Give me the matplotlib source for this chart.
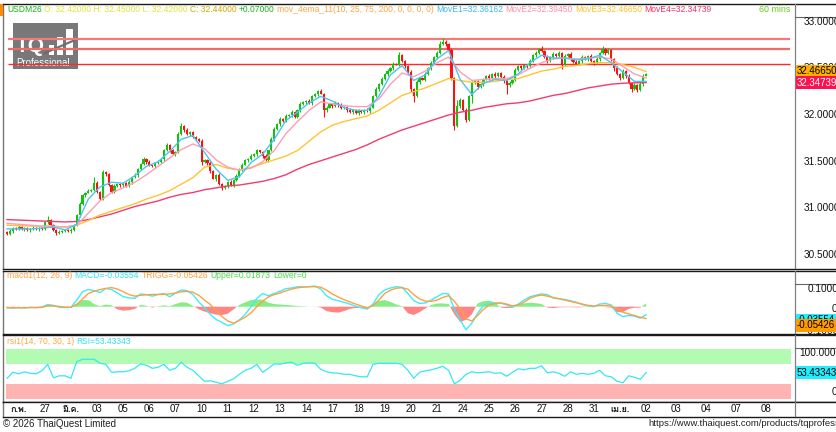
import numpy as np
import matplotlib
matplotlib.use('Agg')
import matplotlib.pyplot as plt
from matplotlib.patches import Rectangle
from matplotlib import font_manager as fm
from matplotlib.ft2font import FT2Font

W, H = 836, 432

# ---------------- data ----------------
first_open = 30.75
closes = [
    30.73, 30.76, 30.79, 30.78, 30.80, 30.78, 30.79, 30.77, 30.78, 30.79,
    30.78, 30.79, 30.78, 30.85, 30.88, 30.82, 30.77, 30.74, 30.75, 30.76,
    30.77, 30.76, 30.77, 30.82, 30.93, 31.05, 31.14, 31.17, 31.19, 31.20,
    31.27, 31.18, 31.10, 31.39, 31.37, 31.25, 31.18, 31.24, 31.26, 31.25,
    31.27, 31.24, 31.28, 31.34, 31.36, 31.42, 31.48, 31.53, 31.50, 31.46,
    31.45, 31.49, 31.50, 31.53, 31.62, 31.68, 31.62, 31.58, 31.60, 31.80,
    31.88, 31.84, 31.80, 31.82, 31.76, 31.74, 31.72, 31.50, 31.52, 31.49,
    31.40, 31.32, 31.36, 31.26, 31.22, 31.24, 31.28, 31.25, 31.30, 31.35,
    31.42, 31.47, 31.52, 31.53, 31.56, 31.58, 31.62, 31.60, 31.56, 31.52,
    31.62, 31.74, 31.85, 31.90, 31.96, 31.94, 31.99, 32.00, 32.03, 31.98,
    32.05, 32.12, 32.14, 32.15, 32.13, 32.20, 32.22, 32.26, 32.23, 32.05,
    32.08, 32.12, 32.10, 32.13, 32.11, 32.07, 32.09, 32.05, 32.03, 32.05,
    32.02, 32.04, 32.03, 32.05, 32.04, 32.08, 32.20, 32.28, 32.33, 32.39,
    32.44, 32.47, 32.50, 32.55, 32.54, 32.64, 32.58, 32.52, 32.46, 32.28,
    32.20, 32.35, 32.40, 32.38, 32.44, 32.50, 32.56, 32.62, 32.66, 32.76,
    32.78, 32.76, 32.70, 32.40, 31.88, 32.10, 32.16, 32.05, 31.95, 32.20,
    32.34, 32.36, 32.30, 32.33, 32.38, 32.42, 32.40, 32.44, 32.42, 32.45,
    32.41, 32.36, 32.32, 32.34, 32.38, 32.48, 32.52, 32.50, 32.53, 32.52,
    32.58, 32.64, 32.66, 32.71, 32.69, 32.62, 32.58, 32.62, 32.65, 32.63,
    32.66, 32.54, 32.63, 32.65, 32.60, 32.57, 32.55, 32.58, 32.62, 32.60,
    32.63, 32.58, 32.56, 32.60, 32.66, 32.71, 32.66, 32.70, 32.60, 32.50,
    32.44, 32.40, 32.47, 32.42, 32.34, 32.28, 32.32, 32.27, 32.33, 32.42,
    32.44,
]
# wick lengths beyond the body, in 0.01 units, one digit per candle
upper_wick = ("1211211112" "1112411121" "1121121121" "7212111211" "1121211212"
              "1121221212" "3121121211" "2112111212" "1211212112" "1221212121"
              "1211212121" "2112121121" "1211211212" "1212131112" "1211212123"
              "4212162121" "2121212121" "1212121212" "2121312121" "2121212121"
              "1212131211" "2121212122" "1")
lower_wick = ("1121112121" "1211211211" "1121121211" "1211212112" "2112121121"
              "1211212121" "1212121312" "2131212121" "1212112121" "2121212121"
              "1212121217" "2121211212" "1212121121" "1212121213" "6121212121"
              "1212412131" "7121212121" "1292121212" "2121212121" "1521212121"
              "2121212123" "1212131212" "0")

ema_step = 4
ema1 = [30.78, 30.78, 30.78, 30.79, 30.80, 30.77, 30.83, 31.10, 31.23, 31.28,
        31.27, 31.35, 31.45, 31.50, 31.61, 31.74, 31.78, 31.60, 31.42, 31.30,
        31.34, 31.49, 31.58, 31.74, 31.94, 32.03, 32.13, 32.20, 32.15, 32.08,
        32.05, 32.05, 32.20, 32.43, 32.53, 32.37, 32.43, 32.60, 32.69, 32.38,
        32.22, 32.34, 32.38, 32.37, 32.44, 32.56, 32.64, 32.61, 32.61, 32.59,
        32.60, 32.64, 32.56, 32.46, 32.36, 32.36]
ema2 = [30.84, 30.83, 30.82, 30.81, 30.81, 30.80, 30.82, 30.95, 31.08, 31.17,
        31.22, 31.28, 31.36, 31.45, 31.54, 31.63, 31.69, 31.64, 31.52, 31.44,
        31.41, 31.43, 31.50, 31.62, 31.80, 31.93, 32.05, 32.14, 32.12, 32.10,
        32.09, 32.09, 32.17, 32.33, 32.45, 32.41, 32.47, 32.56, 32.62, 32.46,
        32.37, 32.38, 32.39, 32.39, 32.43, 32.50, 32.56, 32.60, 32.61, 32.60,
        32.61, 32.62, 32.60, 32.52, 32.44, 32.395]
ema3 = [30.82, 30.815, 30.81, 30.81, 30.805, 30.80, 30.82, 30.87, 30.93, 30.97,
        31.01, 31.05, 31.10, 31.14, 31.19, 31.26, 31.33, 31.44, 31.47, 31.43,
        31.41, 31.44, 31.48, 31.52, 31.56, 31.62, 31.72, 31.82, 31.89, 31.93,
        31.96, 31.99, 32.05, 32.13, 32.21, 32.25, 32.29, 32.34, 32.39, 32.37,
        32.35, 32.35, 32.36, 32.38, 32.39, 32.43, 32.47, 32.49, 32.52, 32.53,
        32.55, 32.56, 32.56, 32.54, 32.51, 32.4665]
ema4 = [30.88, 30.875, 30.87, 30.865, 30.86, 30.855, 30.86, 30.88, 30.91, 30.94,
        30.98, 31.02, 31.05, 31.08, 31.12, 31.15, 31.17, 31.20, 31.22, 31.24,
        31.25, 31.27, 31.29, 31.32, 31.36, 31.42, 31.47, 31.51, 31.55, 31.59,
        31.63, 31.68, 31.74, 31.79, 31.84, 31.88, 31.92, 31.96, 32.00, 32.03,
        32.05, 32.08, 32.10, 32.12, 32.13, 32.15, 32.18, 32.21, 32.23, 32.26,
        32.29, 32.31, 32.33, 32.34, 32.345, 32.34739]

osc_step = 2
macd = [-0.005, -0.006, -0.004, -0.006, -0.003, -0.004, -0.002, 0.010, 0.006, -0.003,
        -0.004, -0.003, 0.030, 0.068, 0.078, 0.073, 0.064, 0.083, 0.078, 0.062,
        0.046, 0.040, 0.038, 0.058, 0.055, 0.048, 0.055, 0.060, 0.045, 0.062,
        0.076, 0.073, 0.055, 0.022, -0.005, -0.035, -0.058, -0.072, -0.086, -0.078,
        -0.060, -0.035, 0.000, 0.038, 0.060, 0.050, 0.060, 0.070, 0.082, 0.085,
        0.091, 0.090, 0.091, 0.094, 0.080, 0.050, 0.034, 0.027, 0.020, 0.012,
        0.002, -0.005, -0.011, 0.012, 0.055, 0.076, 0.085, 0.091, 0.088, 0.060,
        0.028, 0.015, 0.017, 0.030, 0.045, 0.060, 0.058, -0.010, -0.061, -0.105,
        -0.075, -0.030, 0.005, 0.015, 0.017, 0.016, 0.008, -0.002, 0.012, 0.030,
        0.045, 0.052, 0.058, 0.055, 0.040, 0.036, 0.033, 0.027, 0.020, 0.010,
        0.004, 0.000, 0.012, 0.015, 0.008, -0.030, -0.045, -0.040, -0.043, -0.052,
        -0.036]
trigg = [-0.004, -0.005, -0.005, -0.005, -0.004, -0.004, -0.003, 0.004, 0.004, 0.001,
         -0.002, -0.003, 0.010, 0.035, 0.060, 0.070, 0.078, 0.083, 0.087, 0.080,
         0.068, 0.055, 0.048, 0.052, 0.054, 0.056, 0.056, 0.056, 0.058, 0.062,
         0.068, 0.069, 0.066, 0.052, 0.030, 0.010, -0.020, -0.045, -0.065, -0.075,
         -0.062, -0.048, -0.028, 0.000, 0.025, 0.045, 0.055, 0.062, 0.072, 0.080,
         0.086, 0.089, 0.091, 0.091, 0.089, 0.075, 0.058, 0.044, 0.032, 0.022,
         0.012, 0.003, -0.006, 0.005, 0.030, 0.060, 0.075, 0.084, 0.086, 0.080,
         0.055, 0.035, 0.025, 0.024, 0.030, 0.042, 0.050, 0.025, -0.010, -0.055,
         -0.065, -0.040, -0.012, 0.008, 0.015, 0.017, 0.012, 0.004, 0.008, 0.020,
         0.038, 0.048, 0.053, 0.048, 0.042, 0.036, 0.030, 0.024, 0.018, 0.012,
         0.006, 0.003, 0.005, 0.006, 0.003, -0.010, -0.025, -0.033, -0.040, -0.048,
         -0.054]
hist = [0.002, -0.002, 0.001, -0.001, 0.001, 0.000, 0.002, 0.008, 0.004, -0.002,
        -0.001, 0.000, 0.015, 0.030, 0.030, 0.012, 0.002, 0.010, 0.006, -0.012,
        -0.018, -0.016, -0.010, 0.008, 0.004, -0.004, 0.002, 0.006, 0.002, 0.012,
        0.020, 0.018, 0.004, -0.012, -0.022, -0.030, -0.036, -0.038, -0.032, -0.012,
        0.008, 0.020, 0.030, 0.033, 0.032, 0.018, 0.012, 0.010, 0.008, 0.006,
        0.003, 0.002, 0.000, 0.001, -0.004, -0.020, -0.025, -0.027, -0.020, -0.010,
        -0.006, -0.005, -0.004, 0.012, 0.026, 0.030, 0.022, 0.010, 0.002, -0.030,
        -0.038, -0.025, -0.008, 0.008, 0.014, 0.015, 0.012, -0.035, -0.070, -0.060,
        -0.035, 0.015, 0.025, 0.027, 0.020, -0.004, -0.006, -0.005, 0.010, 0.015,
        0.018, 0.016, 0.012, -0.004, -0.006, -0.003, -0.002, -0.002, -0.003, -0.002,
        -0.001, 0.001, 0.000, -0.002, -0.004, -0.025, -0.025, -0.010, -0.005, -0.004,
        0.015]
rsi = [42, 54, 51, 55, 52, 51, 57, 70, 43, 47,
       47, 42, 75, 80, 80, 80, 72, 70, 54, 55,
       55, 57, 62, 71, 68, 62, 64, 70, 58, 62,
       74, 64, 58, 47, 36, 37, 34, 31, 36, 41,
       50, 58, 62, 70, 54, 62, 71, 70, 73, 74,
       68, 72, 73, 72, 60, 55, 53, 52, 50, 50,
       47, 45, 45, 70, 72, 72, 72, 72, 70, 58,
       42, 54, 57, 59, 62, 66, 58, 31, 38, 50,
       55, 53, 54, 55, 52, 53, 46, 54, 61, 59,
       62, 62, 67, 53, 55, 52, 46, 55, 50, 52,
       50, 52, 58, 47, 45, 36, 33, 47, 44, 40,
       53.43343]

hlevels = [32.814, 32.707, 32.546]
price_ticks = [33.0, 32.5, 32.0, 31.5, 31.0, 30.5]
day_labels = ["ก.พ.", "27", "มี.ค.", "03", "05", "06", "07", "10", "11", "12", "13",
              "14", "17", "18", "19", "20", "21", "24", "25", "26", "27", "28",
              "31", "เม.ย.", "02"]
future_labels = ["03", "04", "07", "08"]
month_labels = {"ก.พ.", "มี.ค.", "เม.ย."}
bars_per_day = 9

# ---------------- fonts ----------------
def find_thai_font():
    for f in fm.fontManager.ttflist:
        try:
            if ord('ก') in FT2Font(f.fname).get_charmap():
                return f.name
        except Exception:
            pass
    return None

thai = find_thai_font()
fams = ['Liberation Sans'] + ([thai] if thai else []) + ['DejaVu Sans']
plt.rcParams['font.family'] = fams

# ---------------- geometry helpers ----------------
PX0, PXB = 7.0, 2.905
def bx(px):
    return (px - PX0) / PXB
def fx(px):
    return px / W
def fy(py):
    return 1 - py / H

fig = plt.figure(figsize=(W / 100, H / 100), dpi=100)
fig.patch.set_facecolor('white')

def panel(top, bottom):
    ax = fig.add_axes([fx(3), fy(bottom), (W - 3) / W, (bottom - top) / H])
    ax.set_xlim(bx(3), bx(W))
    ax.set_xticks([])
    ax.set_yticks([])
    for s in ax.spines.values():
        s.set_color('#1a1a1a')
        s.set_linewidth(1.0)
    ax.spines['left'].set_color('#777777')
    ax.spines['right'].set_visible(False)
    ax.axvline(bx(795), color='#808080', lw=0.9, zorder=30)
    return ax

def chain(ax, pieces, px, py, size, gap=1.7):
    prev = None
    for s, col in pieces:
        if prev is None:
            prev = ax.text(fx(px), fy(py), s, transform=fig.transFigure, color=col,
                           fontsize=size, ha='left', va='center', zorder=40)
        else:
            prev = ax.annotate(s, xy=(1, 0.5), xycoords=prev, xytext=(gap, 0),
                               textcoords='offset points', color=col, fontsize=size,
                               ha='left', va='center', annotation_clip=False, zorder=40)

def rlabel(ax, px, yval, s):
    ax.text(bx(px), yval, s, ha='left', va='center', fontsize=7.2, color='#111',
            clip_on=False, zorder=35)

def vbox(ax, yval, s, fc, tc):
    ax.text(bx(797), yval, s, ha='left', va='center', fontsize=7, color=tc,
            bbox=dict(boxstyle='square,pad=0.12', fc=fc, ec='none'), clip_on=False, zorder=50)

GREEN, RED = '#12C212', '#FF1010'

# ---------------- main price panel ----------------
def pp(y):
    return 32 + (115 - y) / 93.4

axm = panel(4, 269)
axm.set_ylim(pp(269), pp(4))

# logo (behind lines)
axm.add_patch(Rectangle((fx(13), fy(69)), fx(78) - fx(13), fy(23) - fy(69),
                        transform=fig.transFigure, fc='#6c6c6c', ec='none', alpha=0.92, zorder=0.5))
axm.text(fx(16), fy(47), "TQ", transform=fig.transFigure, color='white', fontsize=15,
         fontweight='bold', ha='left', va='center', zorder=0.6)
for (x0, x1, y0) in [(49, 54, 45), (57, 63, 37), (66, 73, 29)]:
    axm.add_patch(Rectangle((fx(x0), fy(55)), fx(x1) - fx(x0), fy(y0) - fy(55),
                            transform=fig.transFigure, fc='white', ec='none', zorder=0.6))
axm.plot([fx(45), fx(75)], [fy(53), fy(40)], transform=fig.transFigure, color='#6c6c6c', lw=1.5, zorder=0.7)
axm.text(fx(16), fy(63), "Professional", transform=fig.transFigure, color='white', fontsize=7,
         ha='left', va='center', zorder=0.6)

# horizontal levels
axm.hlines(hlevels, bx(8), bx(790), colors=['#F27A7A', '#F06A6A', '#FF2A2A'],
           linewidths=[1.6, 1.6, 1.0], zorder=2)

# candles
n = len(closes)
xc = np.arange(n)
c = np.array(closes)
o = np.concatenate([[first_open], c[:-1]])
uw = np.array([int(ch) for ch in upper_wick]) * 0.01
lw_ = np.array([int(ch) for ch in lower_wick]) * 0.01
hi = np.maximum(o, c) + uw
lo = np.minimum(o, c) - lw_
cols = np.where(c >= o, GREEN, RED)
axm.vlines(xc, lo, hi, colors=cols, lw=0.8, zorder=3)
axm.bar(xc, np.maximum(np.abs(c - o), 0.006), bottom=np.minimum(o, c), width=0.75,
        color=cols, linewidth=0, zorder=4)

xe = np.arange(0, n, ema_step)
axm.plot(xe, ema4, color='#F23C6E', lw=1.0, zorder=5)
axm.plot(xe, ema3, color='#FFC433', lw=1.0, zorder=5)
axm.plot(xe, ema2, color='#FF9DB4', lw=1.0, zorder=5)
axm.plot(xe, ema1, color='#4CC4F4', lw=1.0, zorder=5)

# right price scale
for v in price_ticks:
    rlabel(axm, 804, v, f"{v:.5f}")
axm.plot([bx(795), bx(W)], [pp(17), pp(17)], color='#666', lw=0.8, clip_on=False, zorder=30)
vbox(axm, ema3[-1], f"{ema3[-1]:.5f}", '#FFB000', 'black')
vbox(axm, ema4[-1], f"{ema4[-1]:.5f}", '#FF1050', 'white')

# header
fig.add_artist(Rectangle((0, fy(16)), fx(3), fy(4) - fy(16), transform=fig.transFigure,
                         fc='#FF8C00', ec='none'))
chain(axm, [("USDM26", '#18B018'),
            ("O: 32.42000 H: 32.45000 L: 32.42000", '#E4E43A'),
            ("C: 32.44000", '#CDAA00'),
            ("+0.07000", '#17B017'),
            ("mov_4ema_11(10, 25, 75, 200, 0, 0, 0, 0)", '#FFA640'),
            ("MovE1=32.36162", '#3DB8F5'),
            ("MovE2=32.39450", '#FF8FA8'),
            ("MovE3=32.46650", '#FFC229'),
            ("MovE4=32.34739", '#FF2D5F')], 7, 10, 6.15)
axm.text(fx(790), fy(10), "60 mins", transform=fig.transFigure, color='#66CC22', fontsize=6.4,
         ha='right', va='center', zorder=40)

# ---------------- MACD panel ----------------
def mv(y):
    return (306.7 - y) / 220.0

axd = panel(271, 334)
axd.set_ylim(mv(334), mv(271))
xo = np.arange(0, n, osc_step)
h = np.array(hist)
axd.fill_between(xo, h, 0, where=h >= 0, interpolate=True, color='#86EC86', lw=0, zorder=2)
axd.fill_between(xo, h, 0, where=h <= 0, interpolate=True, color='#FF8585', lw=0, zorder=2)
axd.plot(xo, macd, color='#3CEEFA', lw=1.0, zorder=4)
axd.plot(xo, trigg, color='#FFA040', lw=1.0, zorder=5)
axd.plot([bx(795), bx(W)], [mv(284), mv(284)], color='#666', lw=0.8, clip_on=False, zorder=30)
rlabel(axd, 808, mv(289), "0.10000")
rlabel(axd, 832, mv(309), "0")
rlabel(axd, 805, mv(331), "-0.10000")
vbox(axd, mv(320), "-0.03554", '#22EEFF', 'black')
vbox(axd, mv(325.5), "-0.05426", '#FF9A00', 'black')
chain(axd, [("macd1(12, 26, 9)", '#FFA040'),
            ("MACD=-0.03554", '#33E0F0'),
            ("TRIGG=-0.05426", '#FFA040'),
            ("Upper=0.01873", '#44DD44'),
            ("Lower=0", '#44DD44')], 7, 276, 6.25)

# ---------------- RSI panel ----------------
def rv(y):
    return (399.3 - y) / 0.5

axr = panel(335, 402)
axr.set_ylim(rv(402), rv(335))
axr.fill_between([bx(6), bx(791)], 70, 100, color='#B3FBB3', lw=0, zorder=1)
axr.fill_between([bx(6), bx(791)], 0, 30, color='#FFB3B3', lw=0, zorder=1)
axr.plot(xo, rsi, color='#33E8F5', lw=0.9, zorder=4)
axr.plot([bx(795), bx(W)], [rv(348), rv(348)], color='#666', lw=0.8, clip_on=False, zorder=30)
rlabel(axr, 799, rv(353), "100.00000")
rlabel(axr, 832, rv(392), "0")
vbox(axr, rsi[-1], "53.43343", '#22EEFF', 'black')
chain(axr, [("rsi1(14, 70, 30, 1)", '#FFA640'),
            ("RSI=53.43343", '#33E0F0')], 7, 342, 6.15)

# ---------------- date strip ----------------
axt = panel(402, 417)
axt.set_ylim(0, 1)
tick_pos = [bars_per_day * d + 4 for d in range(len(day_labels))]
fut_start = tick_pos[-1]
tick_pos += [fut_start + 10.3 * (k + 1) for k in range(len(future_labels))]
for pos, lab in zip(tick_pos, day_labels + future_labels):
    bold = lab in month_labels
    axt.text(pos, 0.5, lab, ha='center', va='center', fontsize=7 if not bold else 6.5,
             fontweight='bold' if bold else 'normal', color='#111', zorder=10)

# ---------------- footer ----------------
fig.text(fx(3), fy(424), "© 2026 ThaiQuest Limited", fontsize=7.0, color='#222', ha='left', va='center')
fig.text(fx(648), fy(424), "https://www.thaiquest.com/products/tqprofessional", fontsize=6.8,
         color='#222', ha='left', va='center')

fig.savefig('out.png', dpi=100, facecolor='white')
